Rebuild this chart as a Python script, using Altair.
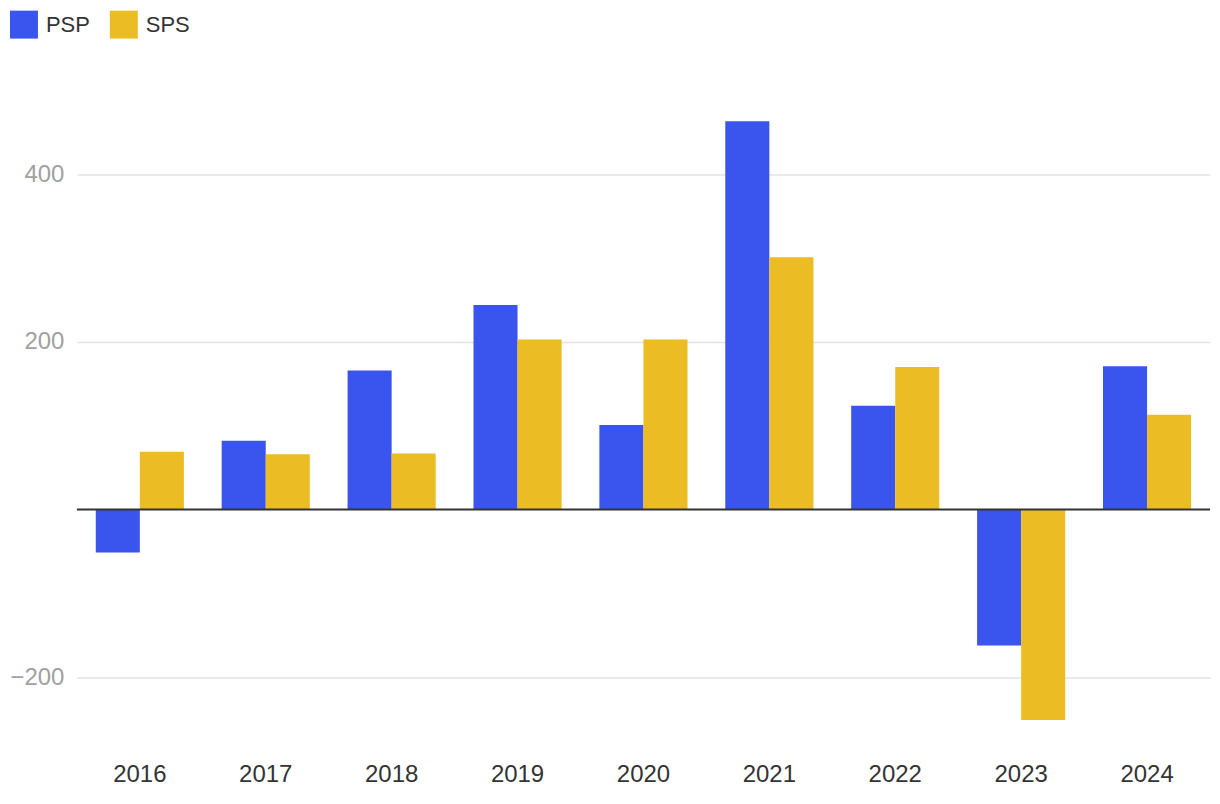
import altair as alt
import pandas as pd

years = ["2016", "2017", "2018", "2019", "2020", "2021", "2022", "2023", "2024"]
psp = [-51, 82, 166, 244, 101, 463, 124, -162, 171]
sps = [69, 66, 67, 203, 203, 301, 170, -251, 113]
series = ["PSP", "SPS"]
colors = ["#3A54EE", "#EBBC23"]

rows = []
for i, y in enumerate(years):
    rows.append({"year": y, "series": "PSP", "value": psp[i]})
    rows.append({"year": y, "series": "SPS", "value": sps[i]})
df = pd.DataFrame(rows)

FONT = "Liberation Sans"

bars = alt.Chart(df).mark_bar().encode(
    x=alt.X("year:N", sort=years,
            scale=alt.Scale(paddingInner=0.3, paddingOuter=0.15),
            axis=alt.Axis(title=None, labelAngle=0, ticks=False, domain=False,
                          labelFontSize=24, labelColor="#333333", labelFont=FONT,
                          labelPadding=18, grid=False)),
    xOffset=alt.XOffset("series:N", sort=series),
    y=alt.Y("value:Q", scale=alt.Scale(domain=[-280, 520], nice=False, zero=False),
            axis=alt.Axis(title=None, values=[-200, 200, 400], ticks=False, domain=False,
                          labelFontSize=24, labelColor="#A0A0A0", labelFont=FONT,
                          labelPadding=13, grid=True, gridColor="#E3E3E3", gridWidth=1.5,
                          format="~d")),
    color=alt.Color("series:N", sort=series,
                    scale=alt.Scale(domain=series, range=colors),
                    legend=alt.Legend(title=None, orient="none", direction="horizontal",
                                      legendX=-67, legendY=-63, symbolType="square",
                                      symbolSize=784, symbolStrokeWidth=0, symbolOpacity=1,
                                      labelFontSize=22, labelColor="#333333", labelFont=FONT,
                                      labelOffset=8, columnPadding=19, padding=0)),
)

zero = alt.Chart(pd.DataFrame({"v": [0]})).mark_rule(color="#333333", strokeWidth=2).encode(
    y=alt.Y("v:Q")
)

chart = alt.layer(bars, zero).properties(
    width=1135, height=672,
    autosize=alt.AutoSizeParams(type="none"),
    padding={"left": 69, "top": 65, "right": 2, "bottom": 50},
).configure_view(stroke=None)

chart.save("out.html", embed_options={"renderer": "svg", "actions": False})
